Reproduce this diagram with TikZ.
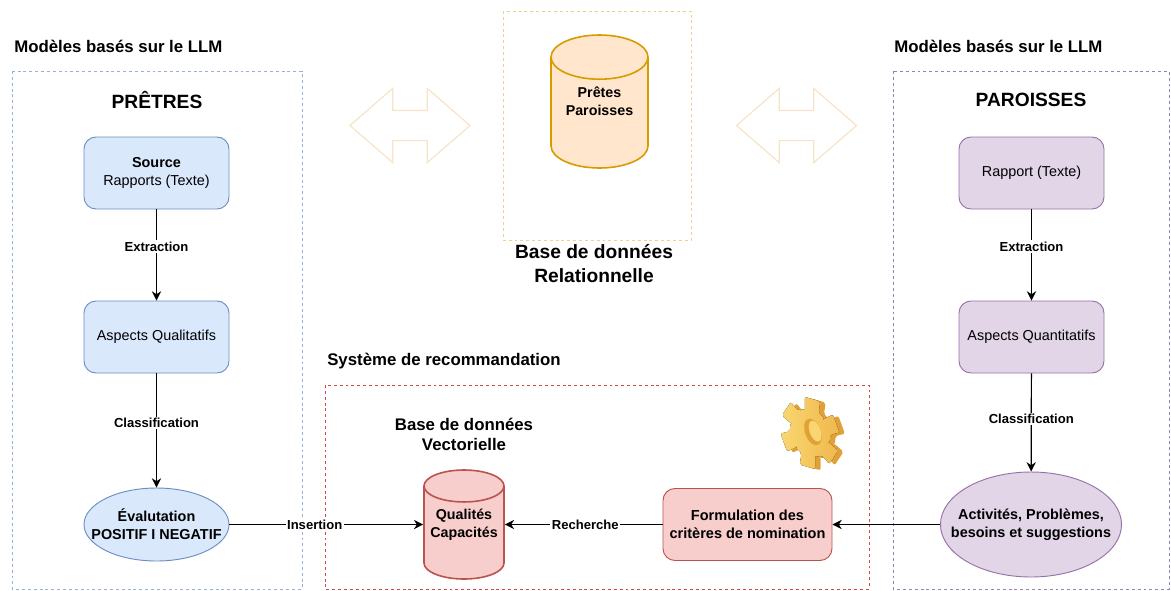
\documentclass[tikz,border=0pt]{standalone}
\usepackage{fontspec}
\setmainfont{Liberation Sans}
\usetikzlibrary{arrows.meta,shapes.geometric,shapes.arrows}
\definecolor{bluefill}{HTML}{DAE8FC}
\definecolor{blueline}{HTML}{6C8EBF}
\definecolor{purplefill}{HTML}{E1D5E7}
\definecolor{purpleline}{HTML}{9673A6}
\definecolor{redfill}{HTML}{F8CECC}
\definecolor{redline}{HTML}{B85450}
\definecolor{redarea}{HTML}{D04848}
\definecolor{purplearea}{HTML}{9A80B8}
\definecolor{orangefill}{HTML}{FFE6CC}
\definecolor{orangeline}{HTML}{D79B00}
\definecolor{orangepale}{HTML}{F6E3C8}
\definecolor{gearback}{HTML}{E0A238}
\definecolor{gearlight}{HTML}{F9D670}
\definecolor{geardark}{HTML}{F0B84C}
\tikzset{
    boxarea/.style={line width=0.6pt,dash pattern=on 2.2pt off 2.2pt},
    stagebox/.style={rectangle,rounded corners=9pt,draw,line width=0.7pt,
        minimum width=108.75pt,minimum height=54pt,inner sep=0pt,align=center,font=\fontsize{10.8}{13.5}\selectfont},
    stageoval/.style={ellipse,draw,line width=0.7pt,inner ysep=0pt,align=center,
        font=\bfseries\fontsize{10.8}{13.5}\selectfont},
    datacyl/.style={cylinder,shape border rotate=90,draw,line width=1.2pt,inner sep=0pt,text width=51pt,anchor=shape center},
    cyltext/.style={inner sep=0pt,align=center,font=\bfseries\fontsize{10.7}{13.5}\selectfont},
    swaparrow/.style={double arrow,draw=orangepale,line width=0.9pt,inner xsep=0pt,inner ysep=10.875pt,
        double arrow head extend=16.5pt,double arrow tip angle=82,minimum height=90pt},
    heading/.style={font=\bfseries\fontsize{12.6}{15}\selectfont,inner sep=0pt},
    bighead/.style={font=\bfseries\fontsize{14.4}{17}\selectfont,inner sep=0pt},
    dbhead/.style={font=\bfseries\fontsize{12.6}{15}\selectfont,inner sep=0pt,align=center}
}
\begin{document}
\begin{tikzpicture}[x=0.75pt,y=-0.75pt]
    \useasboundingbox (0,0) rectangle (1171,590);
    % dashed areas
    \draw[boxarea,draw=blueline!70] (12,71) rectangle (302,589);
    \draw[boxarea,draw=orangeline!45] (503,11) rectangle (691,240);
    \draw[boxarea,draw=redarea] (325,385) rectangle (869,589);
    \draw[boxarea,draw=purplearea] (893,71) rectangle (1169,589);
    % texts
    \node[heading,anchor=west] (modelsleft) at (14,46) {Modèles basés sur le LLM};
    \node[heading,anchor=west] (modelsright) at (894,46) {Modèles basés sur le LLM};
    \node[heading,anchor=west] (system) at (327,361) {Système de recommandation};
    \node[bighead] (priests) at (157,100) {PRÊTRES};
    \node[bighead] (parishes) at (1031,100) {PAROISSES};
    \node[dbhead,font=\bfseries\fontsize{14.4}{18}\selectfont] (reldb) at (594,264) {Base de données\\Relationnelle};
    \node[dbhead] (vecdb) at (464,434) {Base de données\\Vectorielle};
    % blue column
    \begin{scope}[every node/.append style={fill=bluefill,draw=blueline}]
        \node[stagebox] (source) at (156.5,173) {\textbf{Source}\\Rapports (Texte)};
        \node[stagebox] (qualit) at (156.5,337) {Aspects Qualitatifs};
        \node[stageoval,inner xsep=-10.6pt,minimum width=108.75pt,minimum height=54.75pt] (evalu) at (156.5,524.5) {Évalutation\\POSITIF I NEGATIF};
    \end{scope}
    % purple column
    \begin{scope}[every node/.append style={fill=purplefill,draw=purpleline}]
        \node[stagebox] (report) at (1031.5,173) {Rapport (Texte)};
        \node[stagebox] (quantit) at (1031.5,337) {Aspects Quantitatifs};
        \node[stageoval,inner xsep=-12pt,minimum width=135.75pt,minimum height=78.75pt] (activ) at (1031,524.5) {Activités, Problèmes,\\besoins et suggestions};
    \end{scope}
    % databases and red box
    \node[datacyl,fill=orangefill,draw=orangeline,minimum width=72.75pt,minimum height=99.75pt,aspect=0.65] (maindb) at (599.5,101.5) {};
    \node[cyltext] (maintext) at (599.5,101.5) {Prêtes\\Paroisses};
    \node[datacyl,fill=redfill,draw=redline,minimum width=60pt,minimum height=81.75pt,aspect=0.47] (vectordb) at (464,524.5) {};
    \node[cyltext] (vectortext) at (464,524.5) {Qualités\\Capacités};
    \node[stagebox,fill=redfill,draw=redline,minimum width=126.75pt,font=\bfseries\fontsize{10.9}{13.5}\selectfont] (criteria) at (747.5,524.5) {Formulation des\\critères de nomination};
    % exchange arrows
    \node[swaparrow] (swapleft) at (410,125.5) {};
    \node[swaparrow] (swapright) at (796.5,125.5) {};
    % gear
    \begin{scope}[shift={(810,433)},rotate=20,xscale=0.78,rounded corners=1.5pt]
        \fill[gearback,shift={(6,3)}] \foreach \a in {0,60,...,300} {(\a-20:25) -- (\a-15:37) -- (\a+15:37) -- (\a+20:25) -- (\a+40:25) -- (0,0) -- cycle};
        \fill[left color=gearlight,right color=geardark] \foreach \a in {0,60,...,300} {(\a-20:25) -- (\a-15:37) -- (\a+15:37) -- (\a+20:25) -- (\a+40:25) -- (0,0) -- cycle};
        \fill[gearback] (4,0) ellipse (10 and 14);
        \fill[gearlight] (7,0) ellipse (7 and 11);
    \end{scope}
    % connectors
    \begin{scope}[>={Stealth[black,length=7pt,width=7pt]},
        every node/.style={fill=white,inner sep=1.2pt,font=\bfseries\fontsize{9.8}{11}\selectfont},
        every edge/.style={draw=black,line width=0.9pt}]
        \path [->] (source) edge node[pos=0.41] {Extraction} (qualit);
        \path [->] (qualit) edge node[pos=0.435] {Classification} (evalu);
        \path [->] (report) edge node[pos=0.41] {Extraction} (quantit);
        \path [->] (quantit) edge node[pos=0.465] {Classification} (activ);
        \path [->] (evalu) edge node[pos=0.44] {Insertion} (evalu -| vectordb.west);
        \path [->] (criteria) edge node[pos=0.49] {Recherche} (criteria -| vectordb.east);
        \path [->] (activ) edge (criteria);
    \end{scope}
\end{tikzpicture}
\end{document}
